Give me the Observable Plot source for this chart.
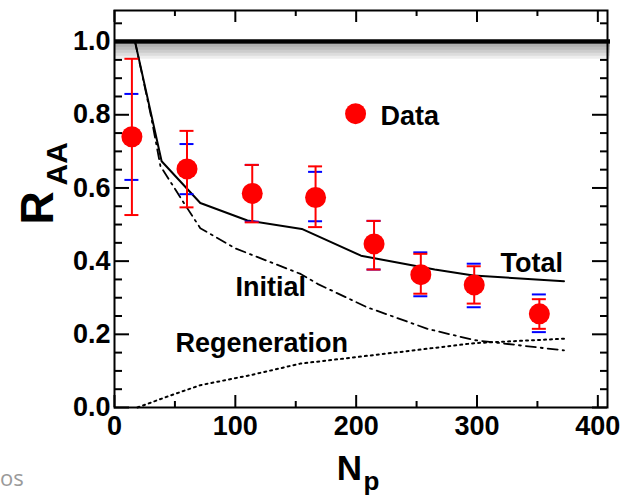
<!DOCTYPE html>
<html>
<head>
<meta charset="utf-8">
<script src="https://cdn.jsdelivr.net/npm/d3@7"></script>
<script src="https://cdn.jsdelivr.net/npm/@observablehq/plot@0.6"></script>
<style>
  body { margin: 0; background: #fff; }
  #wrap { position: relative; width: 627px; height: 502px; overflow: hidden; }
  #os { position: absolute; left: 0px; top: 462px; font: 22px "Open Sans", sans-serif; color: #9a9a9a; }
</style>
</head>
<body>
<div id="wrap"><div id="chart"></div><div id="os">os</div></div>
<script>
// ---- data ----
const npart   = [14.4, 60, 114, 166.4, 214.8, 253.5, 297.7, 351.6];
const raa     = [0.740, 0.652, 0.585, 0.574, 0.447, 0.363, 0.335, 0.256];
const statHi  = [0.953, 0.756, 0.663, 0.659, 0.510, 0.420, 0.386, 0.296];
const statLo  = [0.526, 0.547, 0.506, 0.493, 0.377, 0.311, 0.284, 0.215];
const sysHi   = [0.857, 0.720, 0.663, 0.644, 0.510, 0.424, 0.393, 0.309];
const sysLo   = [0.622, 0.583, 0.508, 0.509, 0.377, 0.304, 0.274, 0.206];

const totalNp  = [17, 39, 71, 110, 155, 204, 265, 297, 372];
const totalRaa = [1.0, 0.673, 0.559, 0.511, 0.488, 0.415, 0.377, 0.361, 0.345];
const initNp   = [17, 30, 38, 58, 71, 100, 154, 168, 209, 259, 298, 372];
const initRaa  = [1.0, 0.80, 0.66, 0.556, 0.49, 0.435, 0.365, 0.338, 0.274, 0.215, 0.184, 0.156];
const regenNp  = [19, 43, 71, 112, 154, 237, 298, 372];
const regenRaa = [0.0, 0.029, 0.061, 0.088, 0.12, 0.152, 0.176, 0.188];

const yMajor = [0, 0.2, 0.4, 0.6, 0.8, 1.0];
const yMinor = [0.05,0.1,0.15,0.25,0.3,0.35,0.45,0.5,0.55,0.65,0.7,0.75,0.85,0.9,0.95,1.05];
const xMajor = [0, 100, 200, 300, 400];
const xMinor = [50, 150, 250, 350];

const curveLabels = [
  {text: "Total", np: 319.5, r: 0.395},
  {text: "Initial", np: 100.2, r: 0.329},
  {text: "Regeneration", np: 50.5, r: 0.174},
  {text: "Data", np: 220.1, r: 0.797}
];
const legendDot = [{np: 199.5, r: 0.803}];
const shadowWidths = [3, 6, 9, 12, 15];

// ---- layout ----
const W = 627, H = 502;
const mL = 114, mR = 20, mT = 10, mB = 95;
const fw = W - mL - mR, fh = H - mT - mB;

const pts = npart.map((x, i) => ({x, y: raa[i], sh: statHi[i], sl: statLo[i], yh: sysHi[i], yl: sysLo[i]}));
const line = (xs, ys) => xs.map((x, i) => ({x, y: ys[i]}));

const FONT = "'Liberation Sans', Arial, Helvetica, sans-serif";

const chart = Plot.plot({
  width: W, height: H,
  marginLeft: mL, marginRight: mR, marginTop: mT, marginBottom: mB,
  style: {fontFamily: FONT, fontWeight: "bold", color: "#000", background: "#fff", overflow: "visible"},
  x: {domain: [0, 408]},
  y: {domain: [0, 1.085]},
  marks: [
    // soft shadow under the unity line
    ...shadowWidths.map(w => Plot.ruleY([1], {stroke: "#000", strokeOpacity: 0.07, strokeWidth: w, dy: 2.2 + w / 2, insetLeft: 1, insetRight: -3})),
    Plot.ruleY([1], {stroke: "#000", strokeWidth: 4.5, insetLeft: 1, insetRight: -3}),
    // model curves
    Plot.line(line(regenNp, regenRaa), {x: "x", y: "y", stroke: "#000", strokeWidth: 2, strokeDasharray: "2,4"}),
    Plot.line(line(initNp, initRaa), {x: "x", y: "y", stroke: "#000", strokeWidth: 1.8, strokeDasharray: "10,5,2,5"}),
    Plot.line(line(totalNp, totalRaa), {x: "x", y: "y", stroke: "#000", strokeWidth: 2}),
    // systematic (blue) caps
    Plot.ruleY(pts, {y: "yh", x1: "x", x2: "x", insetLeft: -7, insetRight: -7, stroke: "#0000ff", strokeWidth: 2}),
    Plot.ruleY(pts, {y: "yl", x1: "x", x2: "x", insetLeft: -7, insetRight: -7, stroke: "#0000ff", strokeWidth: 2}),
    // statistical (red) bars
    Plot.ruleX(pts, {x: "x", y1: "sl", y2: "sh", stroke: "#ff0000", strokeWidth: 2}),
    Plot.ruleY(pts, {y: "sh", x1: "x", x2: "x", insetLeft: -7, insetRight: -7, stroke: "#ff0000", strokeWidth: 2}),
    Plot.ruleY(pts, {y: "sl", x1: "x", x2: "x", insetLeft: -7, insetRight: -7, stroke: "#ff0000", strokeWidth: 2}),
    Plot.dot(pts, {x: "x", y: "y", r: 10.5, fill: "#ff0000", stroke: "none"}),
    // legend & labels
    Plot.dot(legendDot, {x: "np", y: "r", r: 10.5, fill: "#ff0000", stroke: "none"}),
    Plot.text(curveLabels, {x: "np", y: "r", text: "text", textAnchor: "start", fontSize: 27, fontWeight: "bold", fill: "#000"}),
    // frame
    Plot.frame({stroke: "#000", strokeWidth: 2}),
    // inward ticks
    Plot.tickY(yMajor, {y: d => d, insetRight: fw - 15, strokeWidth: 2}),
    Plot.tickY(yMinor, {y: d => d, insetRight: fw - 8, strokeWidth: 2}),
    Plot.tickY(yMajor, {y: d => d, insetLeft: fw - 15, strokeWidth: 2}),
    Plot.tickY(yMinor, {y: d => d, insetLeft: fw - 7, strokeWidth: 2}),
    Plot.tickX(xMajor, {x: d => d, insetTop: fh - 12, strokeWidth: 2}),
    Plot.tickX(xMinor, {x: d => d, insetTop: fh - 6, strokeWidth: 2}),
    Plot.tickX(xMajor, {x: d => d, insetBottom: fh - 12, strokeWidth: 2}),
    Plot.tickX(xMinor, {x: d => d, insetBottom: fh - 6, strokeWidth: 2}),
    // tick labels
    Plot.axisY({ticks: yMajor, tickFormat: d3.format(".1f"), tickSize: 0, tickPadding: 4, fontSize: 27, fontWeight: "bold", label: null}),
    Plot.axisX({ticks: xMajor, tickFormat: d3.format("d"), tickSize: 0, tickPadding: 8, fontSize: 27, fontWeight: "bold", label: null}),
    // axis titles
    Plot.text(["R"], {frameAnchor: "left", rotate: -90, fontSize: 46, fontWeight: "bold", dx: 38 - mL, dy: 224 - (mT + fh / 2)}),
    Plot.text(["AA"], {frameAnchor: "left", rotate: -90, fontSize: 30, fontWeight: "bold", dx: 57 - mL, dy: 185 - (mT + fh / 2)}),
    Plot.text(["N"], {frameAnchor: "bottom", fontSize: 35, fontWeight: "bold", dx: 349 - (mL + fw / 2), dy: 479 - (mT + fh)}),
    Plot.text(["p"], {frameAnchor: "bottom", fontSize: 26, fontWeight: "bold", dx: 371 - (mL + fw / 2), dy: 489 - (mT + fh)})
  ]
});
document.getElementById("chart").appendChild(chart);
</script>
</body>
</html>
